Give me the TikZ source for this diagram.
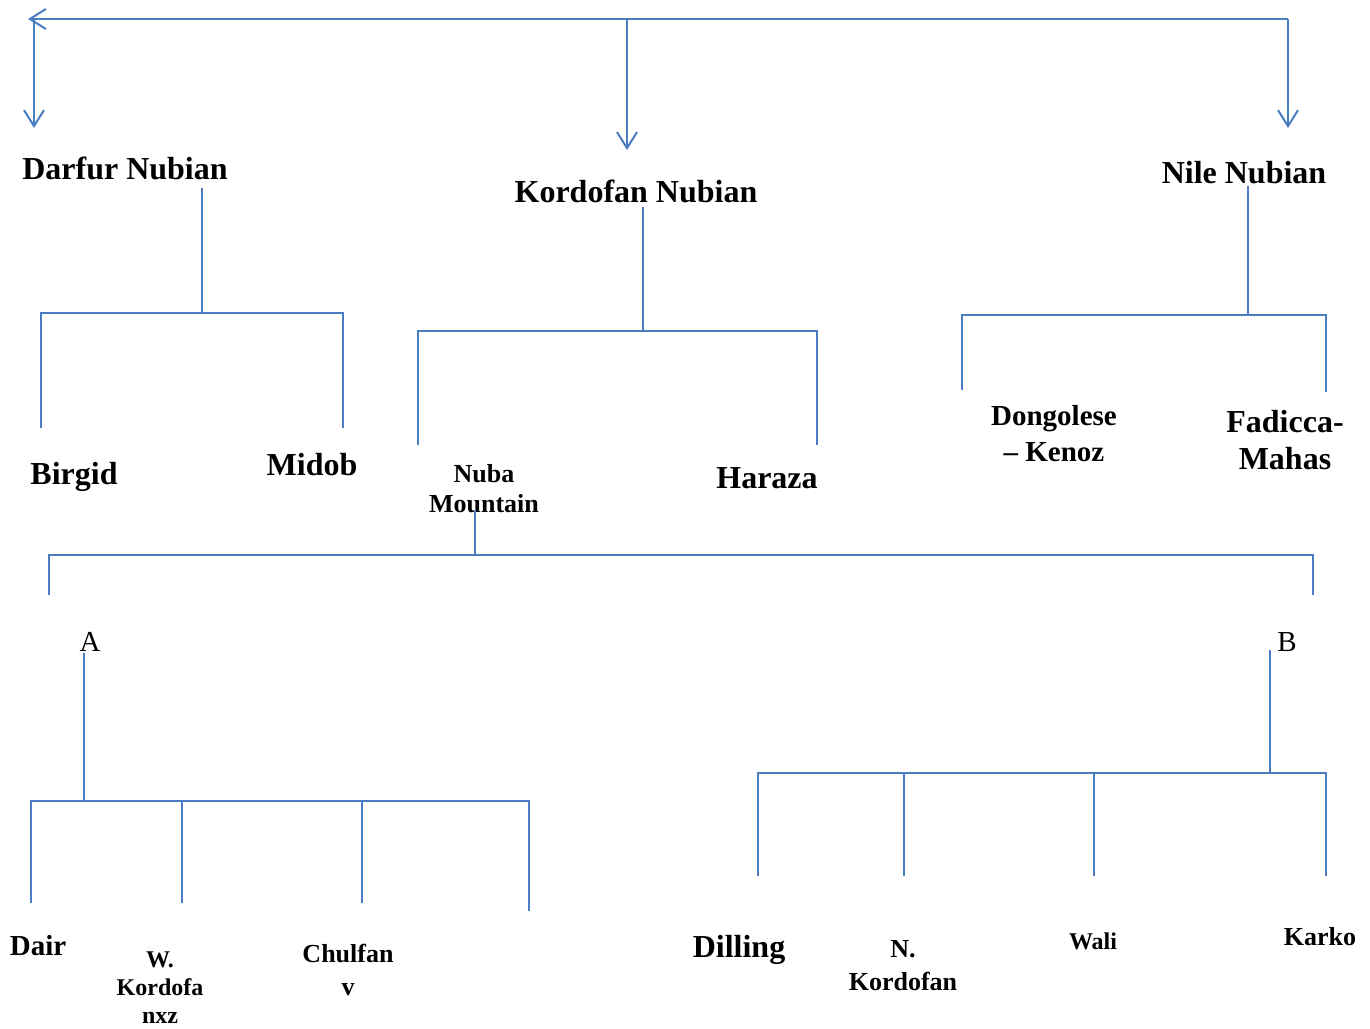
\documentclass[tikz,border=0pt]{standalone}
\usepackage{fontspec}
\setmainfont{Liberation Serif}
\usetikzlibrary{arrows.meta}
\definecolor{linkblue}{RGB}{74,126,192}
\tikzset{
  tree/.style={draw=linkblue,line width=1pt},
  lang/.style={font=\bfseries,align=center,inner sep=0pt},
}
\newcommand{\fsz}[2]{\fontsize{#1}{#2}\selectfont}

\begin{document}
\begin{tikzpicture}[x=0.5pt,y=-0.5pt,>={Straight Barb[length=8pt,width=10pt]}]
\useasboundingbox (0,0) rectangle (1370,1028);
% top level
\node[lang,font=\fsz{16}{18}\bfseries] (darfur) at (125,168) {Darfur Nubian};
\node[lang,font=\fsz{16}{18}\bfseries] (kordofan) at (636,191) {Kordofan Nubian};
\node[lang,font=\fsz{16}{18}\bfseries] (nile) at (1244,173) {Nile Nubian};
\coordinate (hub) at (627,19);
\coordinate (hubL) at (28,19);
\coordinate (hubR) at (1288,19);
\coordinate (armL) at (34,19);
\coordinate (tipL) at (34,128);
\coordinate (tipM) at (627,150);
\coordinate (tipR) at (1288,128);
\draw[tree,->] (hub) -- (hubL);
\draw[tree] (hub) -- (hubR);
\draw[tree,->] (armL) -- (tipL);
\draw[tree,->] (hub) -- (tipM);
\draw[tree,->] (hubR) -- (tipR);
% Darfur
\node[lang,font=\fsz{16}{18}\bfseries] (birgid) at (74,477) {Birgid};
\node[lang,font=\fsz{16}{18}\bfseries] (midob) at (312,465) {Midob};
\coordinate (dTop) at (202,188);
\coordinate (dMid) at (202,313);
\coordinate (dL) at (41,428);
\coordinate (dR) at (343,428);
\draw[tree] (dTop) -- (dMid);
\draw[tree] (dL) |- (dMid) -| (dR);
% Kordofan
\node[lang,font=\fsz{13}{15}\bfseries] (nuba) at (484,489) {Nuba\\Mountain};
\node[lang,font=\fsz{16}{18}\bfseries] (haraza) at (767,478) {Haraza};
\coordinate (kTop) at (643,207);
\coordinate (kMid) at (643,331);
\coordinate (kL) at (418,445);
\coordinate (kR) at (817,445);
\draw[tree] (kTop) -- (kMid);
\draw[tree] (kL) |- (kMid) -| (kR);
% Nile
\node[lang,font=\fsz{14.5}{18}\bfseries] (dongola) at (1054,434) {Dongolese\\– Kenoz};
\node[lang,font=\fsz{16}{18.5}\bfseries] (fadicca) at (1285,440) {Fadicca-\\Mahas};
\coordinate (nTop) at (1248,186);
\coordinate (nMid) at (1248,315);
\coordinate (nL) at (962,390);
\coordinate (nR) at (1326,392);
\draw[tree] (nTop) -- (nMid);
\draw[tree] (nL) |- (nMid) -| (nR);
% Nuba Mountain
\node[inner sep=0pt,font=\fsz{14.5}{17}] (grpA) at (90,642) {A};
\node[inner sep=0pt,font=\fsz{14.5}{17}] (grpB) at (1287,642) {B};
\coordinate (mTop) at (475,510);
\coordinate (mMid) at (475,555);
\coordinate (mL) at (49,595);
\coordinate (mR) at (1313,595);
\draw[tree] (mTop) -- (mMid);
\draw[tree] (mL) |- (mMid) -| (mR);
% group A
\node[lang,font=\fsz{14.5}{17}\bfseries] (dair) at (38,946) {Dair};
\node[lang,font=\fsz{12}{14}\bfseries] (wkord) at (160,988) {W.\\Kordofa\\nxz};
\node[lang,font=\fsz{13}{16.5}\bfseries] (chulfan) at (348,970) {Chulfan\\v};
\coordinate (aTop) at (84,653);
\coordinate (aMid) at (84,801);
\coordinate (a1) at (31,903);
\coordinate (a2) at (182,903);
\coordinate (a3) at (362,903);
\coordinate (a4) at (529,911);
\draw[tree] (aTop) -- (aMid);
\draw[tree] (a1) |- (aMid) -| (a4);
\draw[tree] (a2) -- (a2 |- aMid);
\draw[tree] (a3) -- (a3 |- aMid);
% group B
\node[lang,font=\fsz{16}{18}\bfseries] (dilling) at (739,950) {Dilling};
\node[lang,font=\fsz{13}{16.5}\bfseries] (nkord) at (903,966) {N.\\Kordofan};
\node[lang,font=\fsz{12}{14}\bfseries] (wali) at (1093,941) {Wali};
\node[lang,font=\fsz{13}{15}\bfseries] (karko) at (1320,937) {Karko};
\coordinate (bTop) at (1270,650);
\coordinate (bMid) at (1270,773);
\coordinate (b1) at (758,876);
\coordinate (b2) at (904,876);
\coordinate (b3) at (1094,876);
\coordinate (b4) at (1326,876);
\draw[tree] (bTop) -- (bMid);
\draw[tree] (b1) |- (bMid) -| (b4);
\draw[tree] (b2) -- (b2 |- bMid);
\draw[tree] (b3) -- (b3 |- bMid);
\end{tikzpicture}
\end{document}
